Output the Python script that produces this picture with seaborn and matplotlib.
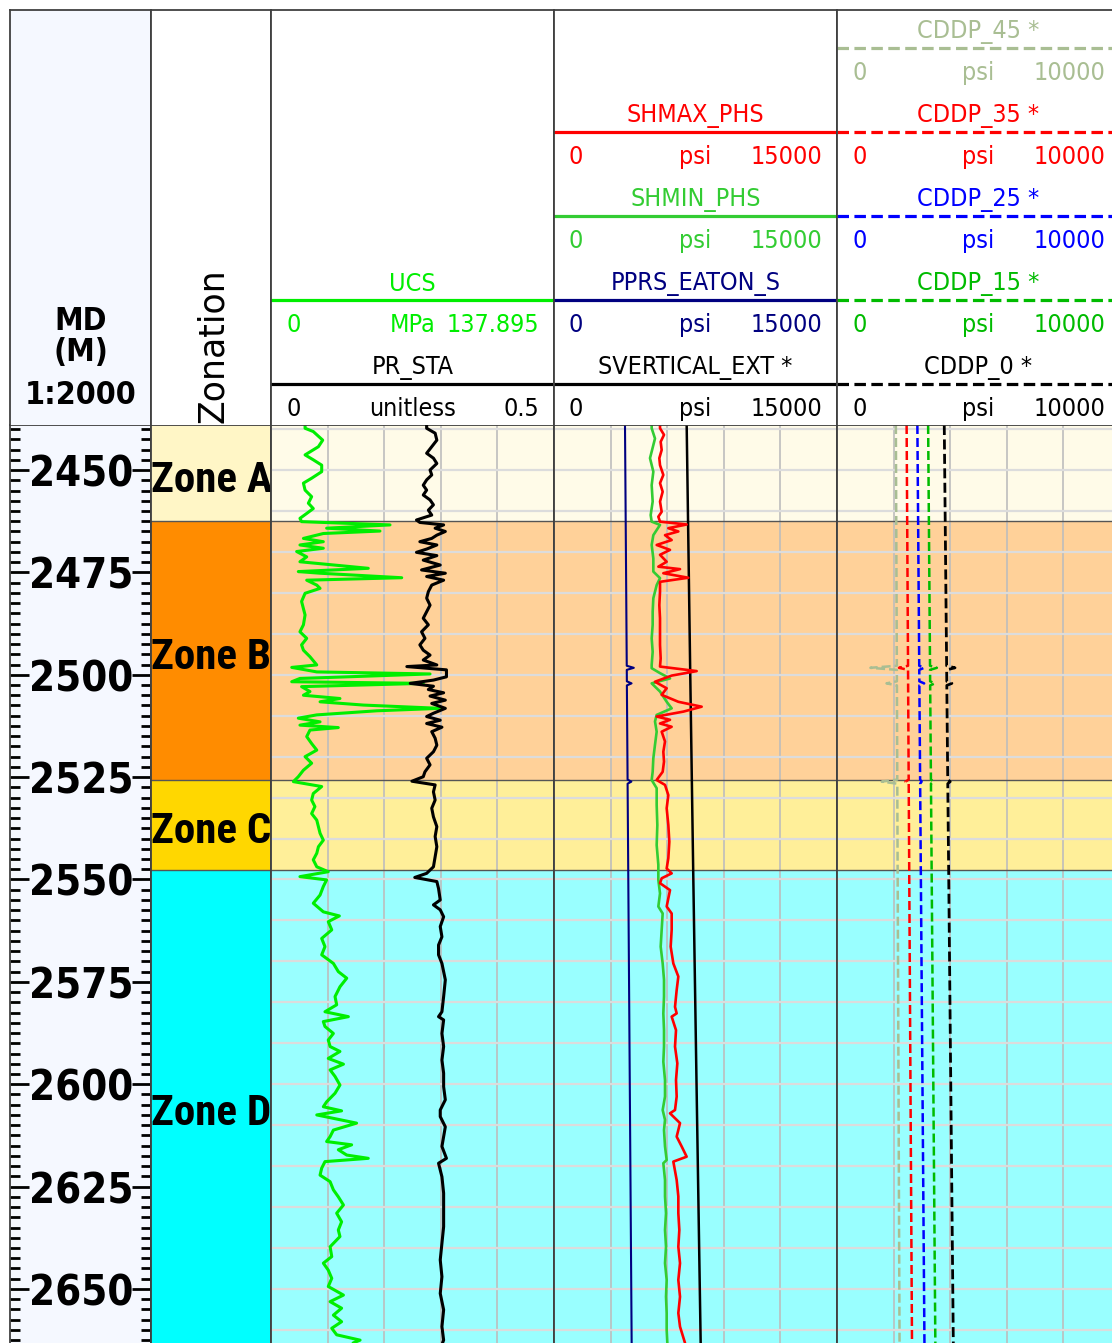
import os
import numpy as np
import matplotlib
matplotlib.use("Agg")
import matplotlib.pyplot as plt
import matplotlib.transforms as mtransforms
from matplotlib import font_manager as fm
import seaborn as sns

# ---------------------------------------------------------------- data
ZONE_NAMES = ["Zone A", "Zone B", "Zone C", "Zone D"]
ZONE_TOPS = [2430.0, 2462.5, 2525.7, 2547.6]
ZONE_BASES = [2462.5, 2525.7, 2547.6, 2665.0]
ZONE_COLORS = ["#FFF6C6", "#FF8C00", "#FFD700", "#00FFFF"]

DEPTH_LABELS = [2450, 2475, 2500, 2525, 2550, 2575, 2600, 2625, 2650]

UCS_DEPTH = [2439.0, 2439.8, 2440.6, 2442.7, 2444.3, 2446.3, 2447.5, 2448.8, 2450.4, 2452.0,
             2453.2, 2454.9, 2456.5, 2458.1, 2459.4, 2460.6, 2461.8, 2462.6, 2463.4, 2464.2,
             2464.9, 2465.5, 2466.7, 2467.5, 2468.3, 2469.1, 2469.9, 2471.2, 2472.4, 2474.0,
             2474.8, 2475.2, 2476.3, 2476.9, 2478.1, 2478.9, 2480.1, 2482.1, 2483.8, 2485.4,
             2487.8, 2489.5, 2491.1, 2492.7, 2494.0, 2495.6, 2497.6, 2498.2, 2499.3, 2499.8,
             2500.9, 2501.7, 2502.1, 2502.9, 2504.1, 2505.0, 2505.8, 2506.6, 2507.4, 2508.2,
             2508.8, 2509.8, 2510.6, 2511.5, 2512.3, 2512.9, 2513.5, 2515.1, 2516.8, 2518.4,
             2520.0, 2521.6, 2523.3, 2524.9, 2526.1, 2527.3, 2529.0, 2530.6, 2532.2, 2533.9,
             2535.5, 2537.1, 2538.7, 2540.4, 2542.0, 2543.6, 2545.2, 2546.9, 2548.1, 2549.3,
             2550.1, 2551.7, 2553.8, 2555.8, 2557.9, 2558.9, 2560.3, 2562.3, 2564.4, 2566.4,
             2568.4, 2570.5, 2572.5, 2574.1, 2576.2, 2578.6, 2580.6, 2582.3, 2583.5, 2584.7,
             2585.9, 2587.6, 2589.2, 2590.8, 2592.0, 2593.7, 2595.1, 2596.5, 2598.1, 2600.2,
             2602.2, 2604.3, 2605.5, 2606.5, 2607.5, 2609.5, 2611.2, 2612.8, 2614.0, 2614.8,
             2616.0, 2617.3, 2618.1, 2618.9, 2620.5, 2622.2, 2623.8, 2625.8, 2627.5, 2629.5,
             2631.5, 2633.6, 2635.6, 2637.2, 2639.7, 2642.1, 2643.7, 2645.4, 2647.4, 2649.4,
             2651.5, 2653.1, 2654.7, 2656.4, 2658.0, 2659.6, 2661.2, 2662.5, 2663.2]
UCS_MPA = [16.6, 16.6, 20.6, 25.2, 23.1, 16.6, 20.6, 24.7, 24.7, 19.8,
           15.8, 16.6, 19.8, 18.2, 20.6, 17.4, 14.1, 14.9, 58.0, 27.1,
           53.1, 25.5, 15.8, 25.5, 14.1, 25.5, 12.5, 17.4, 14.1, 47.4,
           13.3, 23.9, 63.7, 17.4, 22.3, 23.9, 16.6, 14.9, 15.8, 16.6,
           15.8, 14.1, 17.4, 14.9, 15.8, 19.0, 22.3, 10.1, 22.3, 77.5,
           14.1, 10.1, 74.2, 14.9, 19.0, 15.8, 33.6, 23.9, 45.0, 82.4,
           51.5, 22.3, 13.3, 23.9, 14.1, 32.8, 19.0, 17.4, 19.8, 22.3,
           16.6, 19.8, 15.8, 13.3, 10.9, 24.7, 20.6, 19.8, 21.4, 19.8,
           22.3, 23.1, 23.9, 25.5, 23.1, 22.3, 20.6, 22.3, 27.9, 14.1,
           27.1, 25.5, 23.9, 20.6, 25.5, 33.3, 27.9, 29.6, 24.7, 26.3,
           24.7, 30.4, 32.8, 36.9, 33.6, 31.2, 32.0, 26.3, 37.7, 25.5,
           26.3, 30.4, 27.9, 28.8, 33.6, 27.9, 35.3, 28.8, 31.2, 33.6,
           31.2, 27.1, 25.5, 34.4, 22.3, 41.7, 30.4, 28.8, 27.1, 39.3,
           32.8, 36.9, 47.4, 26.3, 24.7, 23.9, 28.8, 30.4, 32.8, 35.3,
           32.0, 34.4, 32.8, 33.6, 28.8, 29.6, 25.5, 27.9, 29.6, 27.9,
           35.3, 28.8, 34.4, 30.4, 34.4, 29.6, 32.0, 43.4, 40.0]

PR_DEPTH = [2439.0, 2439.8, 2441.0, 2442.7, 2444.3, 2445.9, 2447.1, 2448.4, 2450.0, 2451.2,
            2452.4, 2453.7, 2454.9, 2456.1, 2457.3, 2458.5, 2459.8, 2461.0, 2462.2, 2462.8,
            2463.4, 2464.2, 2465.0, 2465.9, 2466.7, 2467.5, 2468.3, 2469.3, 2470.1, 2470.9,
            2472.0, 2473.2, 2474.4, 2475.2, 2476.0, 2476.9, 2478.1, 2479.7, 2481.3, 2483.0,
            2484.6, 2486.2, 2487.8, 2489.5, 2491.1, 2492.7, 2494.0, 2495.2, 2496.4, 2497.6,
            2498.0, 2498.8, 2499.7, 2500.5, 2501.3, 2502.1, 2502.8, 2503.6, 2504.4, 2505.2,
            2506.2, 2507.0, 2508.2, 2509.4, 2510.2, 2511.1, 2511.9, 2512.8, 2513.9, 2515.5,
            2517.2, 2518.8, 2520.4, 2522.0, 2523.7, 2524.9, 2526.0, 2526.9, 2528.6, 2530.6,
            2532.6, 2534.7, 2537.1, 2539.5, 2542.0, 2544.4, 2546.9, 2548.5, 2549.5, 2550.5,
            2552.2, 2555.0, 2556.2, 2557.4, 2559.1, 2561.5, 2564.0, 2566.0, 2568.4, 2570.5,
            2574.5, 2578.6, 2582.3, 2583.5, 2584.3, 2587.6, 2590.8, 2594.1, 2597.3, 2600.6,
            2603.8, 2606.3, 2607.9, 2610.4, 2612.8, 2615.2, 2618.1, 2619.3, 2622.6, 2626.6,
            2630.7, 2634.8, 2638.8, 2642.9, 2647.0, 2651.1, 2655.1, 2659.2, 2662.5, 2663.2]
PR_STA = [0.275, 0.275, 0.290, 0.293, 0.284, 0.275, 0.287, 0.293, 0.281, 0.284,
          0.275, 0.269, 0.275, 0.269, 0.281, 0.287, 0.278, 0.284, 0.257, 0.263,
          0.305, 0.290, 0.308, 0.293, 0.284, 0.263, 0.293, 0.275, 0.257, 0.293,
          0.269, 0.299, 0.266, 0.308, 0.275, 0.305, 0.284, 0.278, 0.275, 0.281,
          0.275, 0.269, 0.278, 0.266, 0.272, 0.263, 0.269, 0.281, 0.269, 0.293,
          0.240, 0.310, 0.310, 0.310, 0.287, 0.246, 0.287, 0.278, 0.305, 0.281,
          0.308, 0.284, 0.308, 0.287, 0.275, 0.299, 0.275, 0.302, 0.284, 0.290,
          0.293, 0.287, 0.275, 0.281, 0.272, 0.269, 0.249, 0.290, 0.287, 0.290,
          0.284, 0.287, 0.293, 0.290, 0.293, 0.290, 0.287, 0.275, 0.254, 0.293,
          0.296, 0.299, 0.287, 0.299, 0.305, 0.299, 0.302, 0.296, 0.296, 0.302,
          0.308, 0.305, 0.302, 0.296, 0.305, 0.302, 0.305, 0.302, 0.305, 0.305,
          0.308, 0.299, 0.299, 0.308, 0.305, 0.302, 0.310, 0.296, 0.302, 0.305,
          0.305, 0.305, 0.302, 0.299, 0.302, 0.299, 0.305, 0.302, 0.305, 0.303]

SHMIN_DEPTH = [2439.0, 2439.8, 2442.3, 2445.5, 2447.1, 2450.4, 2453.7, 2457.7, 2461.0, 2462.6,
               2463.4, 2465.9, 2468.3, 2471.6, 2474.8, 2476.4, 2478.1, 2481.3, 2484.6, 2487.8,
               2491.1, 2494.4, 2497.6, 2498.4, 2499.6, 2500.9, 2502.1, 2504.1, 2506.6, 2508.2,
               2509.8, 2511.4, 2513.9, 2517.1, 2520.4, 2523.7, 2525.7, 2527.7, 2531.8, 2536.7,
               2541.6, 2546.4, 2550.1, 2553.4, 2556.6, 2558.3, 2562.3, 2566.4, 2570.5, 2574.5,
               2578.6, 2582.7, 2586.8, 2590.8, 2594.5, 2599.0, 2603.0, 2606.3, 2608.7, 2611.2,
               2615.2, 2618.5, 2619.3, 2623.4, 2627.4, 2631.5, 2635.6, 2639.7, 2643.7, 2647.8,
               2651.9, 2655.9, 2660.0, 2663.2]
SHMIN_PSI = [5177, 5177, 5353, 5177, 5088, 5265, 5177, 5230, 5124, 5177,
             5619, 5265, 5177, 5265, 5265, 5619, 5442, 5265, 5230, 5230,
             5177, 5230, 5177, 5177, 5619, 6149, 5177, 5619, 5972, 6237,
             5442, 5353, 5442, 5353, 5265, 5230, 5177, 5442, 5442, 5477,
             5442, 5530, 5530, 5619, 5530, 5760, 5707, 5654, 5760, 5831,
             5831, 5795, 5831, 5831, 5795, 5884, 5884, 5760, 5884, 5831,
             5884, 5972, 5795, 5884, 5884, 5937, 5884, 5937, 5884, 5972,
             5937, 5972, 5972, 6007]

SHMAX_DEPTH = [2439.0, 2439.8, 2441.4, 2443.1, 2445.1, 2447.1, 2448.8, 2451.2, 2453.2, 2455.3,
               2457.7, 2460.2, 2461.4, 2462.6, 2463.3, 2464.2, 2465.0, 2465.9, 2467.1, 2468.3,
               2469.5, 2470.7, 2472.4, 2473.6, 2474.2, 2475.2, 2476.3, 2477.3, 2479.7, 2483.0,
               2486.2, 2489.5, 2492.7, 2496.0, 2498.0, 2499.1, 2500.2, 2501.7, 2503.3, 2504.9,
               2506.6, 2507.8, 2509.0, 2510.2, 2511.0, 2511.9, 2512.7, 2513.9, 2516.3, 2518.8,
               2521.2, 2523.7, 2525.7, 2526.9, 2529.4, 2532.6, 2536.7, 2540.8, 2544.8, 2547.3,
               2548.5, 2549.7, 2550.9, 2552.6, 2556.6, 2558.3, 2562.3, 2566.4, 2570.5, 2573.7,
               2577.0, 2581.1, 2582.7, 2583.5, 2586.8, 2590.8, 2594.9, 2599.0, 2603.0, 2606.3,
               2607.1, 2609.5, 2612.8, 2615.2, 2617.7, 2618.9, 2623.4, 2627.4, 2631.5, 2635.6,
               2639.7, 2643.7, 2647.8, 2651.9, 2655.9, 2659.2, 2663.2]
SHMAX_PSI = [5619, 5619, 5831, 5654, 5707, 5583, 5619, 5795, 5619, 5760,
             5619, 5707, 5530, 5619, 7032, 6060, 6590, 5884, 6237, 5442,
             6149, 5619, 5972, 5530, 6679, 5795, 7120, 5619, 5619, 5583,
             5619, 5619, 5619, 5654, 5619, 7562, 6237, 5353, 5972, 5707,
             6590, 7827, 6855, 5442, 6149, 5619, 6237, 5707, 5884, 5795,
             5831, 5760, 5442, 5884, 6060, 5972, 6060, 6113, 6060, 5972,
             6237, 5707, 5619, 6149, 5972, 6237, 6237, 6184, 6325, 6590,
             6502, 6414, 6502, 6237, 6467, 6414, 6537, 6467, 6502, 6414,
             6149, 6679, 6502, 6767, 7032, 6325, 6502, 6590, 6590, 6643,
             6590, 6679, 6590, 6679, 6590, 6679, 6944]

# sparse knots for the smooth pressure curves (events near 2498, 2502, 2526 m)
KNOT_DEPTH = [2439.0, 2497.8, 2498.3, 2498.8, 2501.6, 2502.1, 2502.6,
              2525.6, 2526.1, 2526.6, 2550.0, 2600.0, 2663.2]
PPRS_PSI = [3763, 3856, 4230, 3858, 3862, 4110, 3863, 3900, 4100, 3901, 3938, 4017, 4116]
CDDP_0_PSI = [3790, 3874, 4170, 3875, 3879, 4060, 3880, 3913, 4000, 3914, 3949, 4020, 4110]
CDDP_15_PSI = [3220, 3287, 3530, 3288, 3291, 3460, 3292, 3319, 3420, 3320, 3347, 3404, 3475]
CDDP_25_PSI = [2840, 2906, 3080, 2907, 2910, 3080, 2911, 2937, 2990, 2938, 2964, 3020, 3090]
CDDP_35_PSI = [2460, 2510, 2190, 2510, 2513, 2513, 2513, 2533, 2420, 2534, 2554, 2596, 2650]
CDDP_45_PSI = [2080, 2114, 1180, 2114, 2116, 1750, 2117, 2130, 1580, 2130, 2144, 2173, 2210]

SVERT_DEPTH = [2439.0, 2500.0, 2550.0, 2600.0, 2663.2]
SVERT_PSI = [7032, 7222, 7385, 7555, 7774]

# ---------------------------------------------------------------- layout
W, H = 1112, 1343
TOP_D, BOT_D = 2439.0, 2663.2
HEAD_TOP, HEAD_BOT = 10, 425
DEPTH_X = (10, 151)
ZONE_X = (151, 271)
TRACK_X = [(271, 554), (554, 837), (837, 1120)]
FRAME = "#404040"
DEPTH_BG = "#F5F8FF"

sns.set_style("white")
plt.rcParams["font.family"] = ["DejaVu Sans"]
plt.rcParams["text.color"] = "black"

_files = {os.path.basename(f.fname): f.fname for f in fm.fontManager.ttflist}


def pick(options):
    """Return FontProperties for the first installed file in (filename, size) options."""
    for fname, size in options:
        if fname in _files:
            return fm.FontProperties(fname=_files[fname], size=size)
    return fm.FontProperties(family="DejaVu Sans", size=options[-1][1])


HEAD_FP = pick([("NotoSans-Condensed.ttf", 20), ("LiberationSansNarrow-Regular.ttf", 21),
                ("NotoSans-SemiCondensed.ttf", 18.5), ("DejaVuSansCondensed.ttf", 18)])
ZONE_FP = pick([("NotoSans-ExtraCondensedBold.ttf", 34), ("RobotoCondensed-Bold.ttf", 31),
                ("NotoSans-CondensedBold.ttf", 29.5),
                ("LiberationSansNarrow-Bold.ttf", 31), ("DejaVuSansCondensed-Bold.ttf", 24)])
DEPTH_FP = pick([("DejaVuSansCondensed-Bold.ttf", 30), ("NotoSans-CondensedBold.ttf", 32)])
MD_FP = pick([("DejaVuSansCondensed-Bold.ttf", 23), ("NotoSans-CondensedBold.ttf", 23)])

fig = plt.figure(figsize=(W / 100, H / 100), dpi=100)


def px_axes(x0, y0, x1, y1):
    return fig.add_axes([x0 / W, 1 - y1 / H, (x1 - x0) / W, (y1 - y0) / H])


def frame(ax, top=True, bottom=False, left=True, right=True):
    for side, on in dict(top=top, bottom=bottom, left=left, right=right).items():
        ax.spines[side].set_visible(on)
        ax.spines[side].set_color(FRAME)
        ax.spines[side].set_linewidth(1.3)


def blank(ax):
    ax.tick_params(left=False, right=False, top=False, bottom=False,
                   labelleft=False, labelbottom=False, labeltop=False, labelright=False)
    ax.set_xlabel("")
    ax.set_ylabel("")


# ---------------------------------------------------------------- depth column
axd = px_axes(DEPTH_X[0], HEAD_BOT, DEPTH_X[1], H)
axd.set_facecolor(DEPTH_BG)
axd.set_ylim(BOT_D, TOP_D)
axd.set_xlim(0, 1)
axd.set_yticks(DEPTH_LABELS)
axd.set_yticklabels([str(v) for v in DEPTH_LABELS])
axd.set_yticks(np.arange(2440, BOT_D, 2.5), minor=True)
axd.tick_params(axis="y", which="major", direction="in", length=14, width=2, color="black",
                labelcolor="black", left=True, right=True, labelleft=True, pad=-89)
axd.tick_params(axis="y", which="minor", direction="in", length=7, width=2, color="black",
                left=True, right=True)
axd.tick_params(axis="x", bottom=False, labelbottom=False)
for t in axd.get_yticklabels():
    t.set_fontproperties(DEPTH_FP)
frame(axd)

hd = px_axes(DEPTH_X[0], HEAD_TOP, DEPTH_X[1], HEAD_BOT)
hd.set_facecolor(DEPTH_BG)
hd.set_xlim(0, 1)
hd.set_ylim(HEAD_BOT, HEAD_TOP)
blank(hd)
frame(hd)
for txt, yy in (("MD", 322), ("(M)", 352), ("1:2000", 396)):
    hd.text(0.5, yy, txt, ha="center", va="center", fontproperties=MD_FP, color="black")

# ---------------------------------------------------------------- zonation column
axz = px_axes(ZONE_X[0], HEAD_BOT, ZONE_X[1], H)
axz.set_ylim(BOT_D, TOP_D)
axz.set_xlim(0, 1)
blank(axz)
frame(axz)
lab_tr = mtransforms.offset_copy(mtransforms.blended_transform_factory(axz.transAxes, axz.transData),
                                 fig=fig, x=0, y=-7, units="dots")
for name, top, base, col in zip(ZONE_NAMES, ZONE_TOPS, ZONE_BASES, ZONE_COLORS):
    axz.axhspan(top, base, color=col, lw=0, zorder=0)
    mid = (max(top, TOP_D) + min(base, BOT_D)) / 2
    axz.text(0.0, mid, name, transform=lab_tr, ha="left", va="center",
             fontproperties=ZONE_FP, color="black", clip_on=False, zorder=5)
for top in ZONE_TOPS[1:]:
    axz.axhline(top, color="#555555", lw=1.0, zorder=2)

hz = px_axes(ZONE_X[0], HEAD_TOP, ZONE_X[1], HEAD_BOT)
hz.set_xlim(0, 1)
hz.set_ylim(HEAD_BOT, HEAD_TOP)
blank(hz)
frame(hz)
hz.text(0.52, HEAD_BOT - 2, "Zonation", rotation=90, ha="center", va="bottom",
        fontsize=25, family="DejaVu Sans", color="black")


# ---------------------------------------------------------------- log tracks
def make_track(x0, x1, lo, hi):
    ax = px_axes(x0, HEAD_BOT, x1, H)
    ax.set_xlim(lo, hi)
    ax.set_ylim(BOT_D, TOP_D)
    ax.set_xticks(np.linspace(lo, hi, 6))
    ax.set_yticks(np.arange(2440, BOT_D, 10))
    ax.set_axisbelow(True)
    ax.grid(axis="y", color="#DCDCDC", lw=1.6)
    ax.grid(axis="x", color="#BDBDBD", lw=1.2)
    for top, base, col in zip(ZONE_TOPS, ZONE_BASES, ZONE_COLORS):
        ax.axhspan(top, base, color=col, alpha=0.4, lw=0, zorder=0)
    for top in ZONE_TOPS[1:]:
        ax.axhline(top, color="#555555", lw=1.0, zorder=1)
    blank(ax)
    frame(ax)
    return ax


def twin_scale(ax, lo, hi):
    tw = ax.twiny()
    tw.set_xlim(lo, hi)
    tw.set_ylim(BOT_D, TOP_D)
    for s in tw.spines.values():
        s.set_visible(False)
    blank(tw)
    return tw


def curve(ax, vals, depth, color, lw, ls="-"):
    sns.lineplot(x=vals, y=depth, orient="y", sort=False, estimator=None, ax=ax,
                 color=color, linewidth=lw, linestyle=ls, legend=False)
    ax.set_xlabel("")
    ax.set_ylabel("")


DASH = (0, (3.6, 1.6))

# track 1: UCS + PR_STA
t1 = make_track(*TRACK_X[0], 0, 137.895)
curve(t1, UCS_MPA, UCS_DEPTH, "#00EE00", 2.2)
t1b = twin_scale(t1, 0, 0.5)
curve(t1b, PR_STA, PR_DEPTH, "black", 2.2)
t1.set_xlim(0, 137.895); t1.set_ylim(BOT_D, TOP_D)
t1b.set_xlim(0, 0.5); t1b.set_ylim(BOT_D, TOP_D)

# track 2: stresses and pore pressure
t2 = make_track(*TRACK_X[1], 0, 15000)
curve(t2, PPRS_PSI, KNOT_DEPTH, "#000080", 1.5)
curve(t2, SVERT_PSI, SVERT_DEPTH, "black", 1.8)
curve(t2, SHMIN_PSI, SHMIN_DEPTH, "#33CC33", 1.9)
curve(t2, SHMAX_PSI, SHMAX_DEPTH, "#FF0000", 1.9)
t2.set_xlim(0, 15000); t2.set_ylim(BOT_D, TOP_D)

# track 3: CDDP family
t3 = make_track(*TRACK_X[2], 0, 10000)
curve(t3, CDDP_45_PSI, KNOT_DEPTH, "#A9BE93", 1.8, DASH)
curve(t3, CDDP_35_PSI, KNOT_DEPTH, "#FF0000", 1.8, DASH)
curve(t3, CDDP_25_PSI, KNOT_DEPTH, "#0000FF", 1.8, DASH)
curve(t3, CDDP_15_PSI, KNOT_DEPTH, "#00BB00", 1.8, DASH)
curve(t3, CDDP_0_PSI, KNOT_DEPTH, "black", 2.0, DASH)
t3.set_xlim(0, 10000); t3.set_ylim(BOT_D, TOP_D)

# ---------------------------------------------------------------- track headers
HEADERS = [
    [("UCS", "MPa", "0", "137.895", "#00EE00", 1),
     ("PR_STA", "unitless", "0", "0.5", "black", 0)],
    [("SHMAX_PHS", "psi", "0", "15000", "#FF0000", 3),
     ("SHMIN_PHS", "psi", "0", "15000", "#33CC33", 2),
     ("PPRS_EATON_S", "psi", "0", "15000", "#000080", 1),
     ("SVERTICAL_EXT *", "psi", "0", "15000", "black", 0)],
    [("CDDP_45 *", "psi", "0", "10000", "#A9BE93", 4),
     ("CDDP_35 *", "psi", "0", "10000", "#FF0000", 3),
     ("CDDP_25 *", "psi", "0", "10000", "#0000FF", 2),
     ("CDDP_15 *", "psi", "0", "10000", "#00BB00", 1),
     ("CDDP_0 *", "psi", "0", "10000", "black", 0)],
]
HEAD_DASH = [False, False, True]

for (x0, x1), specs, dashed in zip(TRACK_X, HEADERS, HEAD_DASH):
    hh = px_axes(x0, HEAD_TOP, x1, HEAD_BOT)
    hh.set_xlim(0, 1)
    hh.set_ylim(HEAD_BOT, HEAD_TOP)
    blank(hh)
    frame(hh)
    pad = 15 / (x1 - x0)
    for name, unit, lo, hi, col, slot in specs:
        ly = 384 - 84 * slot
        hh.axhline(ly, color=col, lw=2.3, ls=(0, (3.6, 1.7)) if dashed else "-")
        hh.text(0.5, ly - 16, name, ha="center", va="center", color=col, fontproperties=HEAD_FP)
        hh.text(pad, ly + 25, lo, ha="left", va="center", color=col, fontproperties=HEAD_FP)
        hh.text(0.5, ly + 25, unit, ha="center", va="center", color=col, fontproperties=HEAD_FP)
        hh.text(1 - pad, ly + 25, hi, ha="right", va="center", color=col, fontproperties=HEAD_FP)

fig.savefig("out.png", dpi=100)
